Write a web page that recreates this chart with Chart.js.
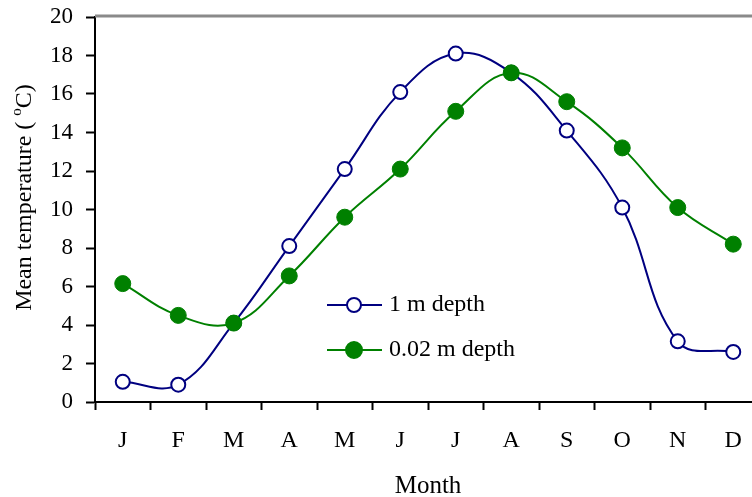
<!DOCTYPE html>
<html>
<head>
<meta charset="utf-8">
<script src="https://cdn.jsdelivr.net/npm/chart.js@4/dist/chart.umd.min.js"></script>
<style>
  html, body { margin: 0; padding: 0; background: #fff; overflow: hidden; }
  #wrap { width: 770px; height: 497px; }
</style>
</head>
<body>
<div id="wrap"><canvas id="c" width="770" height="497"></canvas></div>
<script>
(function () {
  'use strict';

  // ---- data ----
  var months = ['J', 'F', 'M', 'A', 'M', 'J', 'J', 'A', 'S', 'O', 'N', 'D'];
  var depth1m = [1.05, 0.9, 4.1, 8.1, 12.1, 16.1, 18.1, 17.1, 14.1, 10.1, 3.15, 2.6];
  var depth002m = [6.15, 4.5, 4.1, 6.55, 9.6, 12.1, 15.1, 17.1, 15.6, 13.2, 10.1, 8.2];
  var seriesNames = ['1 m depth', '0.02 m depth'];

  var NAVY = '#000080';
  var GREEN = '#008000';
  var SERIF = '"Liberation Serif", "Times New Roman", serif';

  // top border line, custom y title (superscript o) and legend
  var decor = {
    id: 'decor',
    afterDraw: function (chart) {
      var ctx = chart.ctx;
      var a = chart.chartArea;
      ctx.save();

      // grey frame line along the top
      ctx.strokeStyle = '#8a8a8a';
      ctx.lineWidth = 3;
      ctx.beginPath();
      ctx.moveTo(a.left, a.top - 1);
      ctx.lineTo(chart.width, a.top - 1);
      ctx.stroke();

      // y axis title with raised small "o"
      var part1 = 'Mean temperature ( ';
      var sup = 'o';
      var part2 = 'C)';
      ctx.font = '24px ' + SERIF;
      var w1 = ctx.measureText(part1).width;
      var w3 = ctx.measureText(part2).width;
      ctx.font = '15px ' + SERIF;
      var w2 = ctx.measureText(sup).width;
      var total = w1 + w2 + w3;
      ctx.translate(25, (a.top + a.bottom) / 2 - 12);
      ctx.rotate(-Math.PI / 2);
      ctx.fillStyle = '#000';
      ctx.textBaseline = 'middle';
      ctx.textAlign = 'left';
      var x = -total / 2;
      ctx.font = '24px ' + SERIF;
      ctx.fillText(part1, x, 0);
      ctx.font = '15px ' + SERIF;
      ctx.fillText(sup, x + w1, -8);
      ctx.font = '24px ' + SERIF;
      ctx.fillText(part2, x + w1 + w2, 0);
      ctx.setTransform(1, 0, 0, 1, 0, 0);

      // legend
      var rows = [
        { label: seriesNames[0], color: NAVY, fill: '#fff', r: 7, y: 305 },
        { label: seriesNames[1], color: GREEN, fill: GREEN, r: 8, y: 350 }
      ];
      rows.forEach(function (row) {
        ctx.strokeStyle = row.color;
        ctx.lineWidth = 2;
        ctx.beginPath();
        ctx.moveTo(327, row.y);
        ctx.lineTo(382, row.y);
        ctx.stroke();
        ctx.beginPath();
        ctx.arc(354, row.y, row.r, 0, Math.PI * 2);
        ctx.fillStyle = row.fill;
        ctx.fill();
        ctx.stroke();
        ctx.fillStyle = '#000';
        ctx.font = '24px ' + SERIF;
        ctx.textBaseline = 'middle';
        ctx.textAlign = 'left';
        ctx.fillText(row.label, 389, row.y);
      });

      ctx.restore();
    }
  };

  new Chart(document.getElementById('c'), {
    type: 'line',
    data: {
      labels: months,
      datasets: [
        {
          label: seriesNames[0],
          data: depth1m,
          borderColor: NAVY,
          borderWidth: 2,
          backgroundColor: '#fff',
          pointBackgroundColor: '#fff',
          pointBorderColor: NAVY,
          pointBorderWidth: 2,
          pointRadius: 7,
          tension: 0.4,
          order: 1
        },
        {
          label: seriesNames[1],
          data: depth002m,
          borderColor: GREEN,
          borderWidth: 2,
          backgroundColor: GREEN,
          pointBackgroundColor: GREEN,
          pointBorderColor: GREEN,
          pointBorderWidth: 1,
          pointRadius: 8,
          tension: 0.4,
          order: 0
        }
      ]
    },
    options: {
      responsive: false,
      animation: false,
      events: [],
      layout: { padding: { top: 17, right: 3, left: 0, bottom: 0 } },
      plugins: {
        legend: { display: false },
        tooltip: { enabled: false }
      },
      scales: {
        x: {
          offset: true,
          afterFit: function (scale) {
            scale.height = 95;
            scale.paddingLeft = 0;
            scale.paddingRight = 0;
          },
          grid: {
            offset: true,
            drawOnChartArea: false,
            drawTicks: true,
            tickLength: 8,
            tickWidth: 2,
            tickColor: '#000'
          },
          border: { display: true, color: '#000', width: 2 },
          ticks: {
            color: '#000',
            padding: 16,
            maxRotation: 0,
            autoSkip: false,
            font: { family: SERIF, size: 24 }
          },
          title: {
            display: true,
            text: 'Month',
            color: '#000',
            padding: { top: 0, bottom: -4 },
            font: { family: SERIF, size: 25 }
          }
        },
        y: {
          min: 0,
          max: 20,
          afterFit: function (scale) {
            scale.width = 95;
            scale.paddingTop = 0;
            scale.paddingBottom = 0;
          },
          grid: {
            drawOnChartArea: false,
            drawTicks: true,
            tickLength: 9,
            tickWidth: 2,
            tickColor: '#000'
          },
          border: { display: true, color: '#000', width: 2 },
          ticks: {
            stepSize: 2,
            color: '#000',
            padding: 13,
            font: { family: SERIF, size: 23 }
          }
        }
      }
    },
    plugins: [decor]
  });
}());
</script>
</body>
</html>
